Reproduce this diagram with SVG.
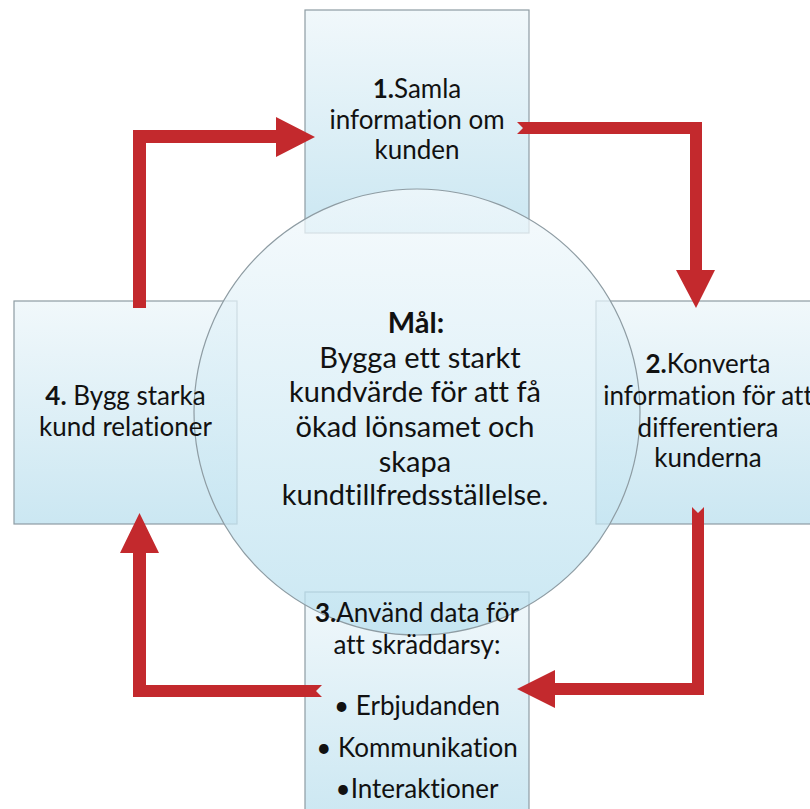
<svg xmlns="http://www.w3.org/2000/svg" width="810" height="809" viewBox="0 0 810 809">
<defs>
<linearGradient id="boxg" x1="0" y1="0" x2="0" y2="1">
<stop offset="0" stop-color="#f1f8fb"/>
<stop offset="1" stop-color="#cbe7f2"/>
</linearGradient>
<linearGradient id="circg" x1="0" y1="0" x2="0" y2="1">
<stop offset="0" stop-color="#f3f9fc"/>
<stop offset="1" stop-color="#b9e0ef"/>
</linearGradient>
<style>
.box{fill:url(#boxg);stroke:#8e9ca3;stroke-width:1.2}
.circ{fill:url(#circg);fill-opacity:0.75;stroke:#8e9ca3;stroke-width:1.2}
.arr{fill:#c3292d}
text{font-family:Lato,"Liberation Sans",sans-serif;fill:#111;text-anchor:middle;font-variant-ligatures:none}
.t{font-size:26px}
.c{font-size:29px}
.b{font-weight:bold}
</style>
</defs>
<rect width="810" height="809" fill="#ffffff"/>
<g id="node1"><rect class="box" x="305" y="10" width="224" height="223"/></g>
<g id="node2"><rect class="box" x="596" y="301" width="224" height="223"/></g>
<g id="node4"><rect class="box" x="14" y="301" width="223" height="223"/></g>
<g id="node3"><rect class="box" x="305" y="592" width="224" height="230"/></g>
<g id="center"><circle class="circ" cx="417" cy="412" r="223"/></g>
<g id="connectors">
<polygon class="arr" points="133,308 133,130 276,130 276,117 315,137 276,157 276,143 146,143 146,308"/>
<polygon class="arr" points="517,122 702,122 702,270 715,270 696,308 676,270 690,270 690,134 517,134 523,128"/>
<polygon class="arr" points="692,507 698,513 704,507 704,695 555,695 555,708 517,689 555,670 555,683 692,683"/>
<polygon class="arr" points="322,685 316,691 322,697 133,697 133,553 120,553 139.5,513 159,553 146,553 146,685"/>
</g>
<g id="node1-text">
<text class="t" x="417" y="98"><tspan class="b">1.</tspan>Samla</text>
<text class="t" x="417" y="129">information om</text>
<text class="t" x="417" y="159">kunden</text>
</g>
<g id="node2-text">
<text class="t" x="708" y="373"><tspan class="b">2.</tspan>Konverta</text>
<text class="t" x="708" y="405">information för att</text>
<text class="t" x="708" y="437">differentiera</text>
<text class="t" x="708" y="467">kunderna</text>
</g>
<g id="node4-text">
<text class="t" x="125.5" y="405"><tspan class="b">4.</tspan> Bygg starka</text>
<text class="t" x="125.5" y="436">kund relationer</text>
</g>
<g id="node3-text">
<text class="t" x="417" y="622"><tspan class="b">3.</tspan>Använd data för</text>
<text class="t" x="417" y="654">att skräddarsy:</text>
<text class="t" x="417" y="715">• Erbjudanden</text>
<text class="t" x="417" y="757">• Kommunikation</text>
<text class="t" x="417" y="798">•Interaktioner</text>
</g>
<g id="center-text">
<text class="c b" x="416" y="333">Mål:</text>
<text class="c" x="420" y="368">Bygga ett starkt</text>
<text class="c" x="415" y="402">kundvärde för att få</text>
<text class="c" x="415" y="437">ökad lönsamet och</text>
<text class="c" x="415" y="472">skapa</text>
<text class="c" x="415" y="505">kundtillfredsställelse.</text>
</g>
</svg>
